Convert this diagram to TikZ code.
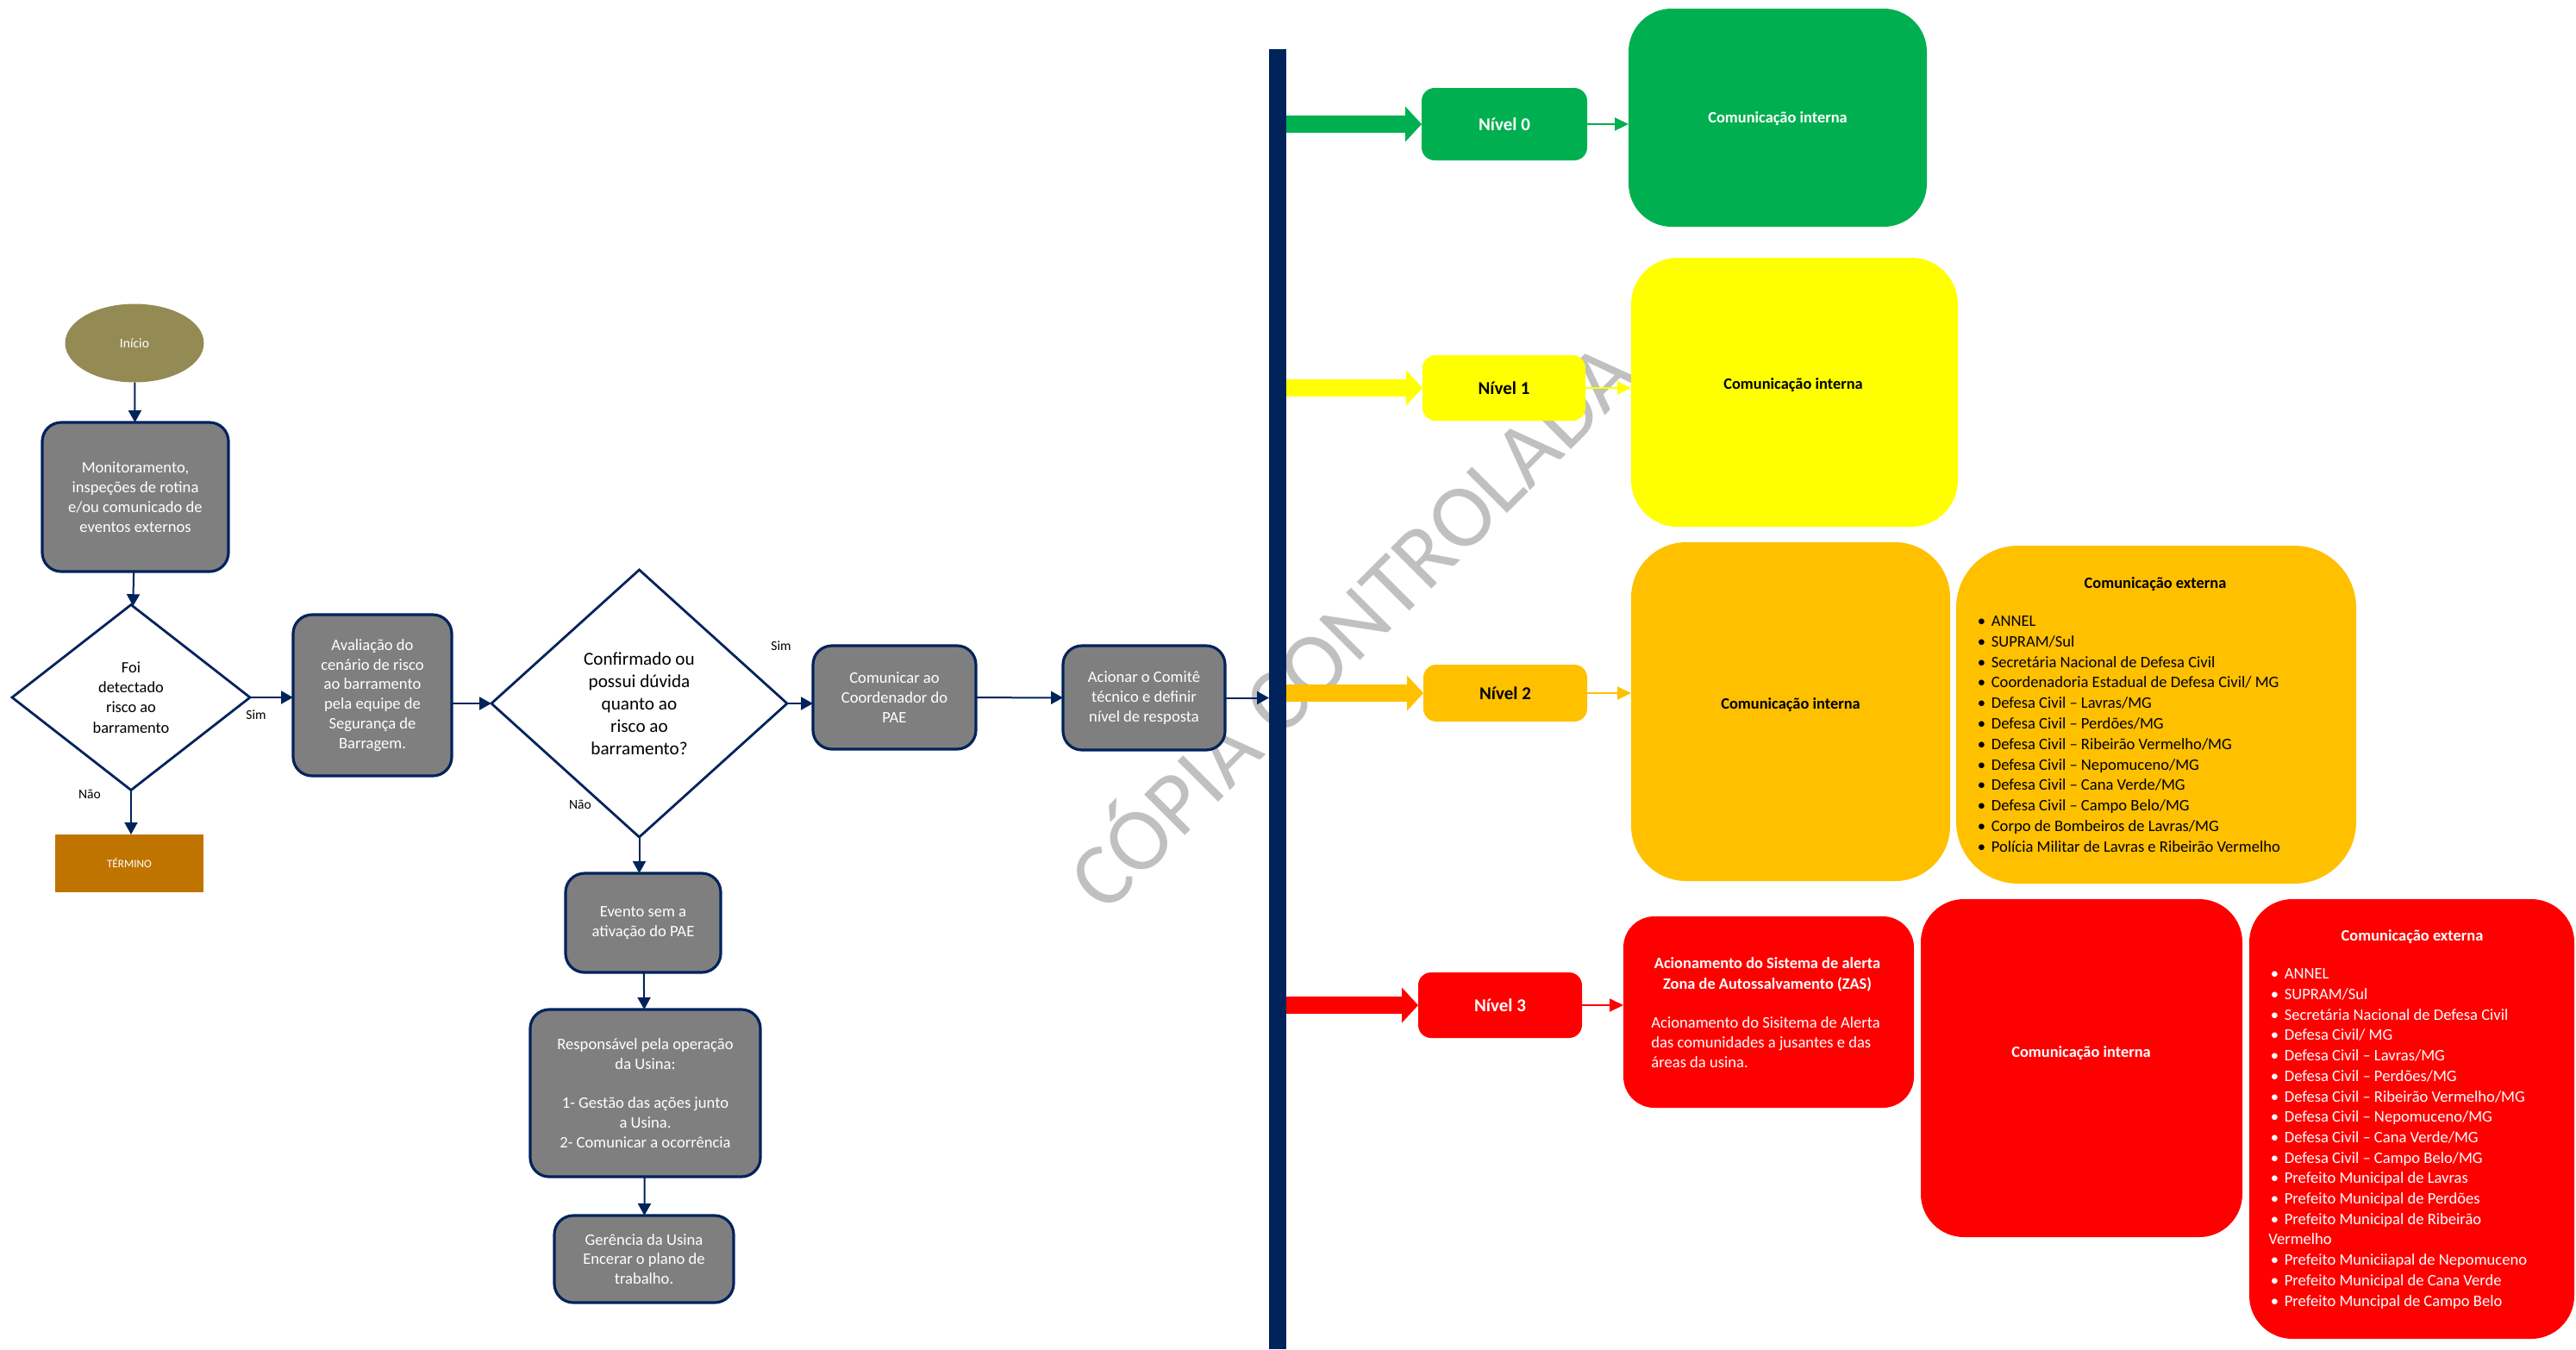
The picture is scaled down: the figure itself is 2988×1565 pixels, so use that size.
\documentclass[tikz,border=0pt]{standalone}
\usepackage{fontspec}
\setmainfont{Carlito}
\usetikzlibrary{shapes.geometric,arrows.meta}
\definecolor{navy}{RGB}{0,35,92}
\definecolor{boxgray}{RGB}{127,127,127}
\definecolor{olive}{RGB}{148,138,84}
\definecolor{termcol}{RGB}{192,116,0}
\definecolor{cgreen}{RGB}{0,176,80}
\definecolor{cyellow}{RGB}{255,255,0}
\definecolor{corange}{RGB}{255,192,0}
\definecolor{cred}{RGB}{255,0,0}
\definecolor{wmgray}{RGB}{192,192,192}
\newcommand\myblt{\hspace*{1.2pt}\makebox[8pt][l]{•}}
\tikzset{
  graybox/.style={draw=navy, line width=1.6pt, fill=boxgray, rounded corners=11pt, text=white, align=center,
    font=\fontsize{9.3}{11.4}\selectfont, inner sep=0pt, outer sep=0pt},
  dia/.style={diamond, draw=navy, line width=1.4pt, fill=white, align=center, inner sep=0pt, outer sep=0pt,
    text=black, font=\fontsize{9.2}{11.65}\selectfont},
  flow/.style={draw=navy, line width=1pt, -{Triangle[length=7pt,width=7.5pt]}},
  lbl/.style={font=\fontsize{7.8}{9}\selectfont, inner sep=0pt, text=black},
  nivel/.style={rounded corners=7.5pt, inner sep=0pt, outer sep=0pt, font=\bfseries\fontsize{10.5}{12}\selectfont},
  bigbox/.style={inner sep=0pt, outer sep=0pt},
  boldlbl/.style={font=\bfseries\fontsize{9.2}{12}\selectfont, inner sep=0pt, align=center},
  listtxt/.style={font=\fontsize{9.3}{11.9}\selectfont, inner sep=0pt, align=left},
  blockarrow/.style={line width=10pt, -{Triangle[length=9.5pt,width=20pt]}},
  thinarrow/.style={line width=0.9pt, -{Triangle[length=8pt,width=7.5pt]}},
}
\begin{document}
\begin{tikzpicture}[x=0.5pt,y=-0.5pt]
\useasboundingbox (0,0) rectangle (2988,1565);

% watermark
\node[rotate=45, anchor=base west, inner sep=0pt, text=wmgray, font=\fontsize{52}{52}\selectfont] (wm) at (1282,1062) {CÓPIA CONTROLADA};

% left flow
\node[ellipse, fill=olive, text=white, minimum width=80.5pt, minimum height=45.5pt, inner sep=0pt, outer sep=0pt,
  font=\fontsize{7.8}{9}\selectfont] (ini) at (156,398) {Início};
\node[graybox, minimum width=108pt, minimum height=86.5pt] (mon) at (157,576.5)
  {Monitoramento,\\inspeções de rotina\\e/ou comunicado de\\eventos externos};
\node[dia, minimum width=138pt, minimum height=107.5pt] (d1) at (152,809) {Foi\\detectado\\risco ao\\barramento};
\node[fill=termcol, text=white, minimum width=86pt, minimum height=33.5pt, inner sep=0pt, outer sep=0pt,
  font=\fontsize{6.6}{8}\selectfont] (term) at (150,1001.5) {TÉRMINO};
\node[graybox, minimum width=92pt, minimum height=93.5pt] (av) at (432,806.5)
  {Avaliação do\\cenário de risco\\ao barramento\\pela equipe de\\Segurança de\\Barragem.};
\node[dia, minimum width=171.5pt, minimum height=155pt, font=\fontsize{10.6}{13}\selectfont] (d2) at (741.5,816)
  {Confirmado ou\\possui dúvida\\quanto ao\\risco ao\\barramento?};
\node[graybox, minimum width=94.5pt, minimum height=60pt] (com) at (1037.5,809) {Comunicar ao\\Coordenador do\\PAE};
\node[graybox, minimum width=94pt, minimum height=60.5pt] (ac) at (1327,809.5) {Acionar o Comitê\\técnico e definir\\nível de resposta};
\node[graybox, minimum width=90pt, minimum height=57.5pt] (ev) at (746,1070.5) {Evento sem a\\ativação do PAE};
\node[graybox, minimum width=133.5pt, minimum height=97pt] (resp) at (748.5,1268)
  {Responsável pela operação\\da Usina:\\[11.4pt]1- Gestão das ações junto\\a Usina.\\2- Comunicar a ocorrência};
\node[graybox, minimum width=104pt, minimum height=50.5pt] (ger) at (747,1460.5) {Gerência da Usina\\Encerar o plano de\\trabalho.};

\node[lbl] (s1) at (297,829) {Sim};
\node[lbl] (no1) at (104,921) {Não};
\node[lbl] (s2) at (906,749) {Sim};
\node[lbl] (no2) at (673,933) {Não};

\draw[flow] (ini) -- (mon);
\draw[flow] (mon) -- (d1);
\draw[flow] (d1.south) -- (d1.south |- term.north);
\draw[flow] (d1.east) -- (d1.east -| av.west);
\draw[flow] (av.east |- d2.west) -- (d2.west);
\draw[flow] (d2.east) -- (d2.east -| com.west);
\draw[flow] (d2.south) -- (d2.south |- ev.north);
\draw[flow] (ev) -- (resp);
\draw[flow] (resp) -- (ger);
\draw[flow] (com) -- (ac);

% bar
\node[fill=navy, inner sep=0pt, outer sep=0pt, minimum width=10pt, minimum height=754pt, anchor=north] (bar) at (1482,57) {};
\draw[flow] (ac.east) -- (ac.east -| bar.west);

% levels
\node[nivel, fill=cgreen, text=white, minimum width=96pt, minimum height=42pt] (n0) at (1745,144) {Nível 0};
\node[nivel, fill=cyellow, text=black, minimum width=94.5pt, minimum height=38pt] (n1) at (1744.5,450) {Nível 1};
\node[nivel, fill=corange, text=black, minimum width=95pt, minimum height=33pt] (n2) at (1746,804) {Nível 2};
\node[nivel, fill=cred, text=white, minimum width=95pt, minimum height=38pt] (n3) at (1740,1166) {Nível 3};

\draw[blockarrow, draw=cgreen] (bar.east |- n0.west) -- (n0.west);
\draw[blockarrow, draw=cyellow] (bar.east |- n1.west) -- (n1.west);
\draw[blockarrow, draw=corange] (bar.east |- n2.west) -- (n2.west);
\draw[blockarrow, draw=cred] (bar.east |- n3.west) -- (n3.west);

% big boxes
\node[bigbox, fill=cgreen, minimum width=173pt, minimum height=126.5pt, rounded corners=25pt] (gi) at (2062,136.5) {};
\node[boldlbl, text=white] (gil) at (2062,138) {Comunicação interna};
\node[bigbox, fill=cyellow, minimum width=189.5pt, minimum height=156pt, rounded corners=27pt] (yi) at (2081.5,455) {};
\node[boldlbl, text=black] (yil) at (2080,447) {Comunicação interna};
\node[bigbox, fill=corange, minimum width=185pt, minimum height=196.5pt, rounded corners=32pt] (oi) at (2077,825.5) {};
\node[boldlbl, text=black] (oil) at (2077,818) {Comunicação interna};
\node[bigbox, fill=corange, minimum width=232pt, minimum height=196pt, rounded corners=36pt] (oe) at (2501,829) {};
\node[boldlbl, text=black] (oet) at (2500,678) {Comunicação externa};
\node[listtxt, text=black, anchor=west] (oel) at (2291,851.5) {%
\myblt ANNEL\\
\myblt SUPRAM/Sul\\
\myblt Secretária Nacional de Defesa Civil\\
\myblt Coordenadoria Estadual de Defesa Civil/ MG\\
\myblt Defesa Civil – Lavras/MG\\
\myblt Defesa Civil – Perdões/MG\\
\myblt Defesa Civil – Ribeirão Vermelho/MG\\
\myblt Defesa Civil – Nepomuceno/MG\\
\myblt Defesa Civil – Cana Verde/MG\\
\myblt Defesa Civil – Campo Belo/MG\\
\myblt Corpo de Bombeiros de Lavras/MG\\
\myblt Polícia Militar de Lavras e Ribeirão Vermelho};

\node[bigbox, fill=cred, minimum width=168.5pt, minimum height=111pt, rounded corners=18pt] (zas) at (2051.5,1174) {};
\node[boldlbl, text=white] (zast) at (2050,1130) {Acionamento do Sistema de alerta\\Zona de Autossalvamento (ZAS)};
\node[listtxt, text=white, anchor=west, font=\fontsize{9.3}{11.6}\selectfont] (zasb) at (1915,1209)
  {Acionamento do Sisitema de Alerta\\das comunidades a jusantes e das\\áreas da usina.};
\node[bigbox, fill=cred, minimum width=186.5pt, minimum height=196pt, rounded corners=25pt] (ri) at (2414.5,1239) {};
\node[boldlbl, text=white] (ril) at (2414,1222) {Comunicação interna};
\node[bigbox, fill=cred, minimum width=188.5pt, minimum height=255pt, rounded corners=25pt] (re) at (2797.5,1298) {};
\node[boldlbl, text=white] (ret) at (2798,1087) {Comunicação externa};
\node[listtxt, text=white, anchor=west, font=\fontsize{9.3}{11.85}\selectfont] (rel) at (2631,1321) {%
\myblt ANNEL\\
\myblt SUPRAM/Sul\\
\myblt Secretária Nacional de Defesa Civil\\
\myblt Defesa Civil/ MG\\
\myblt Defesa Civil – Lavras/MG\\
\myblt Defesa Civil – Perdões/MG\\
\myblt Defesa Civil – Ribeirão Vermelho/MG\\
\myblt Defesa Civil – Nepomuceno/MG\\
\myblt Defesa Civil – Cana Verde/MG\\
\myblt Defesa Civil – Campo Belo/MG\\
\myblt Prefeito Municipal de Lavras\\
\myblt Prefeito Municipal de Perdões\\
\myblt Prefeito Municipal de Ribeirão\\
Vermelho\\
\myblt Prefeito Municiiapal de Nepomuceno\\
\myblt Prefeito Municipal de Cana Verde\\
\myblt Prefeito Muncipal de Campo Belo};

% thin arrows
\draw[thinarrow, draw=cgreen] (n0.east) -- (n0.east -| gi.west);
\draw[thinarrow, draw=cyellow] (n1.east) -- (n1.east -| yi.west);
\draw[thinarrow, draw=corange] (n2.east) -- (n2.east -| oi.west);
\draw[thinarrow, draw=cred] (n3.east) -- (n3.east -| zas.west);
\end{tikzpicture}
\end{document}
